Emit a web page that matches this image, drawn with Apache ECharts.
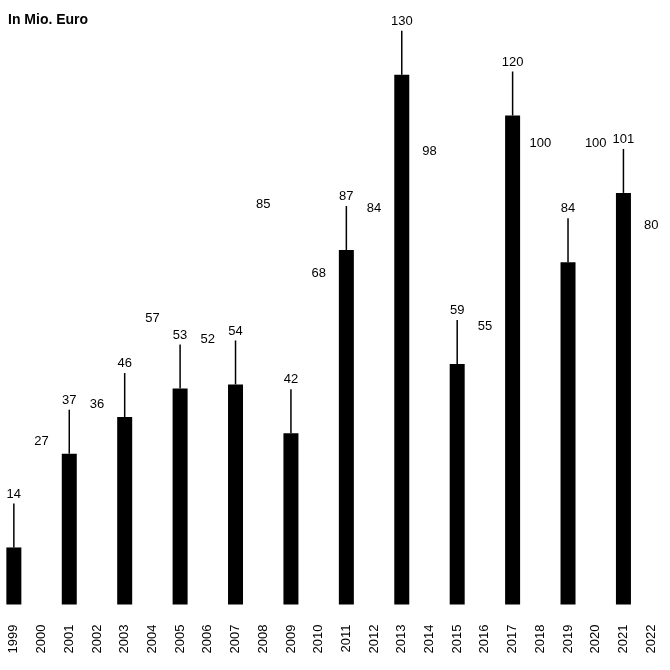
<!DOCTYPE html>
<html>
<head>
<meta charset="utf-8">
<script src="https://cdn.jsdelivr.net/npm/echarts@6/dist/echarts.min.js"></script>
<style>html,body{margin:0;padding:0;background:#fff}#c{width:670px;height:670px}</style>
</head>
<body>
<div id="c"></div>
<script>
const years = ['1999','2000','2001','2002','2003','2004','2005','2006','2007','2008','2009','2010','2011','2012','2013','2014','2015','2016','2017','2018','2019','2020','2021','2022'];
const values = [14,27,37,36,46,57,53,52,54,85,42,68,87,84,130,98,59,55,120,100,84,100,101,80];
const titleText = 'In Mio. Euro';

const FONT = 'Liberation Sans, Arial, sans-serif';
const chart = echarts.init(document.getElementById('c'), null, {renderer: 'canvas'});
const barData = values.map((v, i) => ({
  value: v,
  itemStyle: {color: (parseInt(years[i]) % 2 === 1) ? '#000' : 'rgba(0,0,0,0)'}
}));
const lineData = values.map((v, i) => [i, v]);

chart.setOption({
  animation: false,
  title: {
    text: titleText, left: 8, top: 13, padding: 0,
    textStyle: {fontFamily: FONT, fontSize: 14, fontWeight: 'bold', color: '#000'}
  },
  grid: {left: -2.5, right: 5, top: 34, bottom: 65.5, containLabel: false},
  xAxis: {
    type: 'category', data: years,
    axisLine: {show: false}, axisTick: {show: false},
    axisLabel: {rotate: 90, margin: 20, fontSize: 13, fontFamily: FONT, color: '#000', interval: 0}
  },
  yAxis: {type: 'value', min: 0, max: 140, show: false, splitLine: {show: false}},
  series: [
    {
      type: 'bar', data: barData, barWidth: 15,
      label: {show: true, position: 'top', distance: 47, fontSize: 13, fontFamily: FONT, color: '#000'}
    },
    {
      type: 'custom', data: lineData, silent: true, z: 5,
      renderItem: function (params, api) {
        const idx = api.value(0);
        if (parseInt(years[idx]) % 2 === 0) return null;
        const p = api.coord([idx, api.value(1)]);
        return {type: 'line', shape: {x1: p[0], y1: p[1], x2: p[0], y2: p[1] - 44},
          style: {stroke: '#000', lineWidth: 1.5}};
      }
    }
  ]
});
</script>
</body>
</html>
